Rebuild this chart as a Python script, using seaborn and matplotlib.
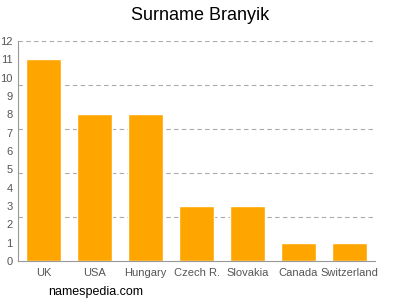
import matplotlib
matplotlib.use("Agg")
import matplotlib.pyplot as plt
import seaborn as sns
import pandas as pd

countries = ["UK", "USA", "Hungary", "Czech R.", "Slovakia", "Canada", "Switzerland"]
counts = [11, 8, 8, 3, 3, 1, 1]
yticks = list(range(0, 13))
grid_levels = [2.4, 4.8, 7.2, 9.6, 12]

sns.set_style("white")
plt.rcParams['font.family'] = ['Liberation Sans', 'DejaVu Sans']

df = pd.DataFrame({"country": countries, "count": counts})

fig = plt.figure(figsize=(4, 3), dpi=100)
ax = fig.add_axes([0.045, 0.13, 0.8925, 0.7333])

for g in grid_levels:
    ax.axhline(g, color="#aaaaaa", linestyle=(0, (4, 3)), linewidth=0.8, zorder=0)

sns.barplot(data=df, x="country", y="count", color="#FFA500", saturation=1,
            width=0.69, ax=ax, zorder=2)

ax.set_ylim(0, 12)
ax.set_xlim(-0.5, len(countries) - 0.5)
ax.set_yticks(yticks)
ax.set_xlabel("")
ax.set_ylabel("")
for s in ["top", "right"]:
    ax.spines[s].set_visible(False)
for s in ["left", "bottom"]:
    ax.spines[s].set_color("#999999")
    ax.spines[s].set_linewidth(0.8)
ax.tick_params(axis="both", colors="#999999", length=3, width=0.8, labelsize=8)
ax.tick_params(axis="y", pad=1)
ax.tick_params(axis="x", pad=2)
for lbl in ax.get_xticklabels() + ax.get_yticklabels():
    lbl.set_color("#555555")

fig.text(0.5, 0.95, "Surname Branyik", ha="center", va="center", fontsize=13, color="#000000")
fig.text(0.12, 0.027, "namespedia.com", ha="left", va="center", fontsize=9, color="#000000")

fig.savefig("out.png", dpi=100)
